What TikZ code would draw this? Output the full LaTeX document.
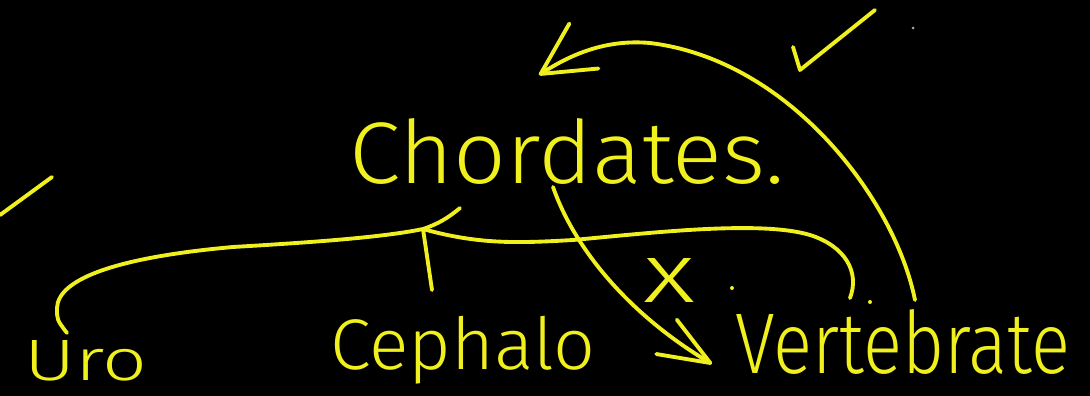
\documentclass[tikz,border=0pt]{standalone}
\usepackage{fontspec}
\usepackage{graphicx}
\newfontfamily\hand{Fira Sans}[UprightFont=* Light]
\usetikzlibrary{arrows.meta}
\definecolor{pen}{RGB}{240,240,30}

\begin{document}
\begin{tikzpicture}[x=0.02cm,y=-0.02cm,inner sep=0pt,
        ink/.style={draw=pen,line width=2.2pt,line cap=round,line join=round},
        word/.style={text=pen,font=\hand},
        barb/.style 2 args={-{Straight Barb[length=#1,width=#2,line cap=round,line join=round]}}]
    \fill[black] (0,0) rectangle (1090,396);
    \useasboundingbox (0,0) rectangle (1090,396);
    \node[word] (chord) at (567,151) {\resizebox{8.7cm}{1.3cm}{Chordates.}};
    \node[word] (uro) at (86,361) {\resizebox{2.46cm}{0.8cm}{Uro}};
    \node[word] (cephalo) at (463,350) {\resizebox*{5.3cm}{1.36cm}{Cephalo}};
    \node[word] (vert) at (903,342) {\resizebox{6.7cm}{1.28cm}{Vertebrate}};
    \node[word] (cross) at (669,280) {\resizebox{1.04cm}{0.88cm}{x}};
    \coordinate (top) at (460,208);
    \coordinate (fork) at (423,229);
    \coordinate (uroend) at (67,333);
    \coordinate (cephend) at (432,290);
    \coordinate (vertend) at (850,298);
    \coordinate (down) at (553,187);
    \coordinate (vertup) at (915,300);
    \draw[ink] (top) .. controls (448,218) and (438,224) .. (fork)
        .. controls (380,238) and (300,243) .. (233,247)
        .. controls (120,257) and (58,278) .. (57,308) .. controls (57,320) .. (uroend);
    \draw[ink] (fork) .. controls (428,260) .. (cephend);
    \draw[ink] (fork) .. controls (480,245) and (520,243) .. (573,240)
        .. controls (650,233) and (760,220) .. (810,235)
        .. controls (845,246) and (860,272) .. (vertend);
    \draw[ink,barb={1.02cm}{0.8cm}] (down) .. controls (575,250) and (630,315) .. (712,364);
    \draw[ink,barb={1.03cm}{1.07cm}] (vertup) .. controls (895,200) and (790,60) .. (650,43)
        .. controls (605,39) and (570,55) .. (539,75);
    \draw[ink] (793,47) -- (800,70) -- (875,10);
    \draw[ink] (0,215) -- (52,177);
    \fill[gray!70] (913,28) circle (1.5);
    \fill[pen] (732,288) circle (2);
    \fill[pen] (870,302) circle (2);
\end{tikzpicture}
\end{document}
